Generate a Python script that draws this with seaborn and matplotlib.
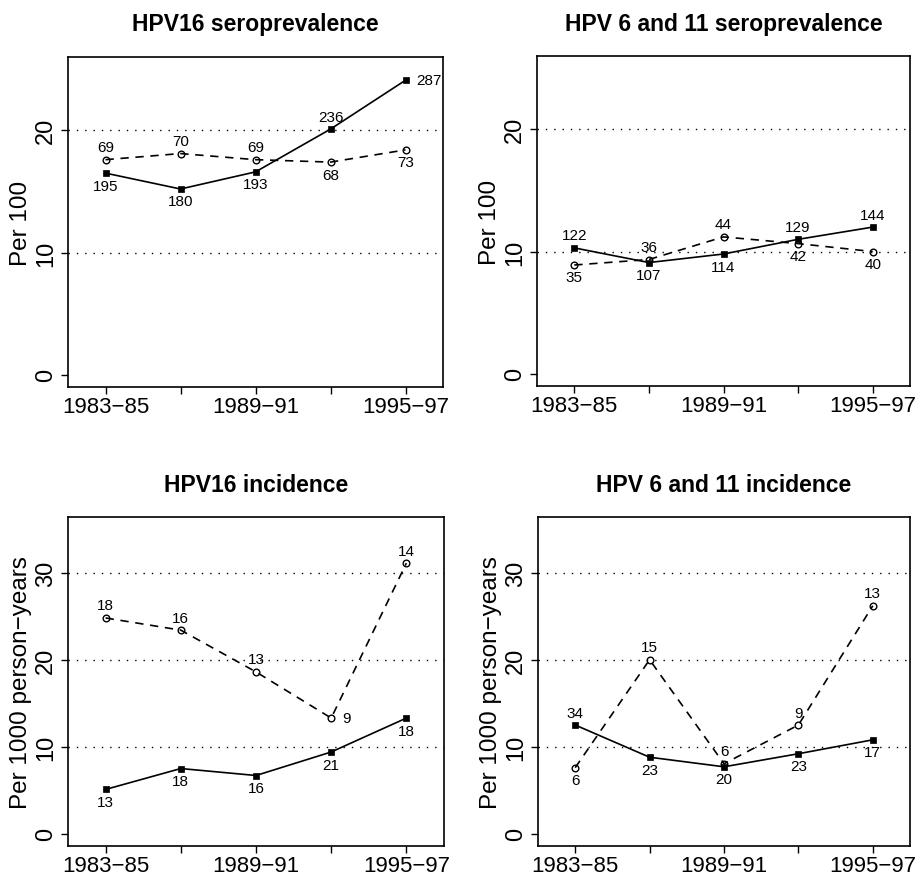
"""Four-panel HPV seroprevalence / incidence trends."""

import matplotlib

matplotlib.use("Agg")
import matplotlib.pyplot as plt
import numpy as np
import pandas as pd
import seaborn as sns

PERIODS = ["1983−85", "1986−88", "1989−91", "1992−94", "1995−97"]
TICK_LABELS = ["1983−85", "", "1989−91", "", "1995−97"]

TITLES = [
    "HPV16 seroprevalence",
    "HPV 6 and 11 seroprevalence",
    "HPV16 incidence",
    "HPV 6 and 11 incidence",
]
YLABELS = ["Per 100", "Per 100", "Per 1000 person−years", "Per 1000 person−years"]

# solid line, filled squares
sero16_solid = [16.5, 15.2, 16.6, 20.1, 24.1]
sero16_solid_n = [195, 180, 193, 236, 287]
sero611_solid = [10.3, 9.1, 9.8, 11.0, 12.0]
sero611_solid_n = [122, 107, 114, 129, 144]
inc16_solid = [5.1, 7.5, 6.7, 9.4, 13.3]
inc16_solid_n = [13, 18, 16, 21, 18]
inc611_solid = [12.5, 8.8, 7.7, 9.2, 10.8]
inc611_solid_n = [34, 23, 20, 23, 17]

# dashed line, open circles
sero16_dash = [17.6, 18.1, 17.6, 17.4, 18.4]
sero16_dash_n = [69, 70, 69, 68, 73]
sero611_dash = [8.9, 9.35, 11.2, 10.65, 10.0]
sero611_dash_n = [35, 36, 44, 42, 40]
inc16_dash = [24.8, 23.4, 18.6, 13.3, 31.1]
inc16_dash_n = [18, 16, 13, 9, 14]
inc611_dash = [7.6, 20.0, 8.05, 12.5, 26.2]
inc611_dash_n = [6, 15, 6, 9, 13]

# where each count label sits relative to its point
solid_place = [
    ["below", "below", "below", "above", "right"],
    ["above", "below", "below", "above", "above"],
    ["below", "below", "below", "below", "below"],
    ["above", "below", "below", "below", "below"],
]
dash_place = [
    ["above", "above", "above", "below", "below"],
    ["below", "above", "above", "below", "below"],
    ["above", "above", "above", "right", "above"],
    ["below", "above", "above", "above", "above"],
]

PANELS = [
    (sero16_solid, sero16_solid_n, sero16_dash, sero16_dash_n, 25, [0, 10, 20]),
    (sero611_solid, sero611_solid_n, sero611_dash, sero611_dash_n, 25, [0, 10, 20]),
    (inc16_solid, inc16_solid_n, inc16_dash, inc16_dash_n, 35, [0, 10, 20, 30]),
    (inc611_solid, inc611_solid_n, inc611_dash, inc611_dash_n, 35, [0, 10, 20, 30]),
]

# axes boxes in pixels: left, top, right, bottom
BOXES = [(68, 58, 443, 388), (537, 57, 910, 387), (68, 518, 444, 847), (538, 518, 910, 847)]
W, H = 921, 879

sns.set_style("ticks")
plt.rcParams["font.family"] = ["Liberation Sans", "DejaVu Sans"]
plt.rcParams.update({
    "text.color": "black",
    "axes.labelcolor": "black",
    "xtick.color": "black",
    "ytick.color": "black",
})


def annotate(ax, xs, ys, counts, places):
    offsets = {"above": ((0, 9), "center"), "below": ((0, -9), "center"), "right": ((8, 0), "left")}
    for x, y, n, p in zip(xs, ys, counts, places):
        off, ha = offsets[p]
        ax.annotate(str(n), (x, y), xytext=off, textcoords="offset points",
                    ha=ha, va="center", fontsize=11, color="black")


fig = plt.figure(figsize=(W / 100, H / 100), dpi=100)
xs = np.arange(len(PERIODS))

for i, (solid, solid_n, dash, dash_n, ymax, yticks) in enumerate(PANELS):
    l, t, r, b = BOXES[i]
    ax = fig.add_axes([l / W, 1 - b / H, (r - l) / W, (b - t) / H])
    df = pd.DataFrame({"x": xs, "solid": solid, "dash": dash})

    for g in yticks[1:]:
        ax.axhline(g, color="black", lw=1, ls=(0, (1, 5)), zorder=0)

    sns.lineplot(data=df, x="x", y="solid", ax=ax, color="black", lw=1.2,
                 marker="s", markersize=4.8, markeredgecolor="black", markeredgewidth=0.5)
    sns.lineplot(data=df, x="x", y="dash", ax=ax, color="black", lw=1.2,
                 linestyle=(0, (5, 4)), marker="o", markersize=4.8,
                 markerfacecolor="none", markeredgecolor="black", markeredgewidth=1)

    annotate(ax, xs, solid, solid_n, solid_place[i])
    annotate(ax, xs, dash, dash_n, dash_place[i])

    ax.set_xlim(-0.5, 4.5)
    ax.set_ylim(-0.04 * ymax, 1.04 * ymax)
    ax.set_xticks(xs)
    ax.set_xticklabels(TICK_LABELS, fontsize=16)
    ax.set_yticks(yticks)
    ax.set_yticklabels([str(v) for v in yticks], fontsize=17, rotation=90, va="center")
    ax.tick_params(direction="out", length=5, width=1, color="black", pad=1.5)
    ax.tick_params(axis="y", pad=3)
    ax.set_xlabel("")
    ax.set_ylabel(YLABELS[i], fontsize=17.5)
    ax.yaxis.set_label_coords(-36 / (r - l), 0.5)
    for s in ax.spines.values():
        s.set_linewidth(1.2)
        s.set_color("black")
    ax.text(0.5, 1 + 33 / (b - t), TITLES[i], transform=ax.transAxes,
            ha="center", va="center", fontsize=16.5, fontweight="bold")

fig.savefig("out.png", dpi=100)
